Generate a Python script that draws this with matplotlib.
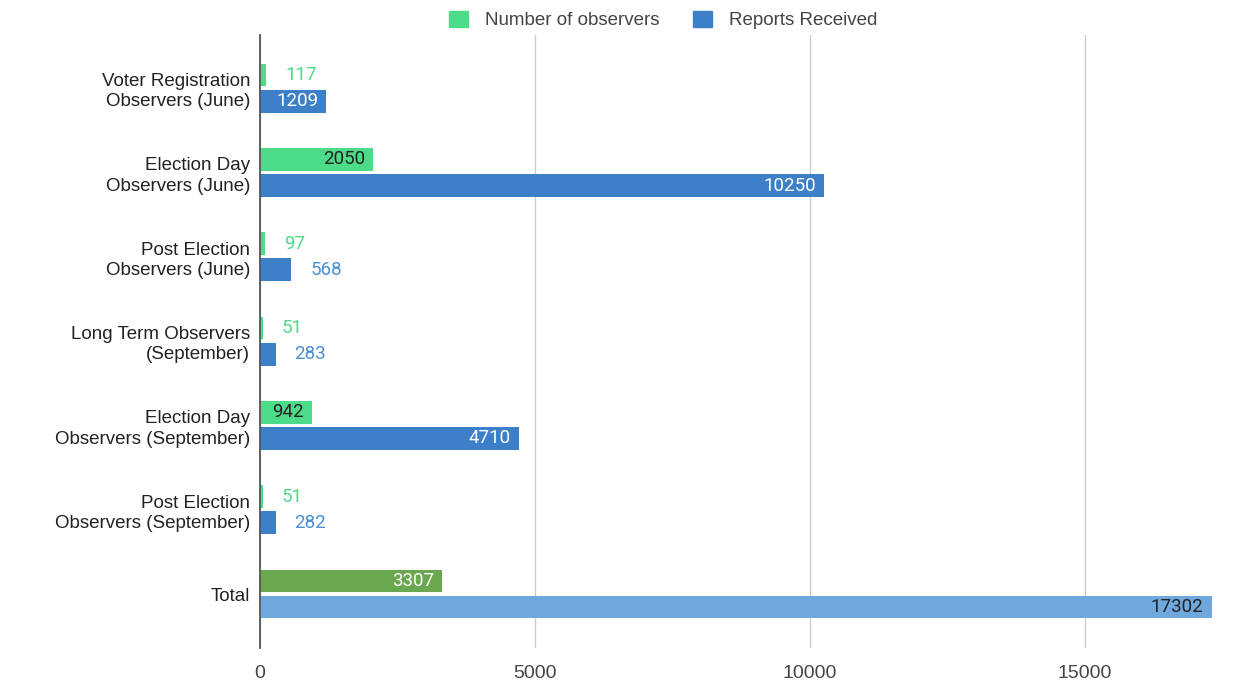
import matplotlib.pyplot as plt
from matplotlib.patches import Patch

categories = ['Voter Registration\nObservers (June)', 'Election Day\nObservers (June)',
              'Post Election\nObservers (June)', 'Long Term Observers\n(September)',
              'Election Day\nObservers (September)', 'Post Election\nObservers (September)',
              'Total']
observers = [117, 2050, 97, 51, 942, 51, 3307]
reports = [1209, 10250, 568, 283, 4710, 282, 17302]

green = '#4cdb88'
blue = '#3d80c8'
green_total = '#6aa84f'
blue_total = '#6fa8dc'

plt.rcParams['font.family'] = ['Liberation Sans', 'DejaVu Sans']

fig = plt.figure(figsize=(12.49, 6.87), dpi=100)
ax = fig.add_axes([260 / 1249, 1 - 648 / 687, 968 / 1249, 613 / 687])

h = 0.27
off = 0.155
y = list(range(len(categories)))
n = len(categories)
g_cols = [green] * (n - 1) + [green_total]
b_cols = [blue] * (n - 1) + [blue_total]

ax.barh([i - off for i in y], observers, height=h, color=g_cols, zorder=3)
ax.barh([i + off for i in y], reports, height=h, color=b_cols, zorder=3)

# value labels: inside the bar when it is wide enough, otherwise after it
px = 17600 / 968.0


def put_label(xv, yv, col_out, dark_inside):
    if xv > 700:
        tc = '#222222' if dark_inside else 'white'
        ax.text(xv - 8 * px, yv, str(xv), ha='right', va='center', color=tc,
                fontsize=13.5, family='Roboto', zorder=4)
    else:
        ax.text(xv + 19 * px, yv, str(xv), ha='left', va='center', color=col_out,
                fontsize=13.5, family='Roboto', zorder=4)


for i in y:
    put_label(observers[i], i - off, '#4cdb88', i != n - 1)
    put_label(reports[i], i + off, '#4a8fd6', i == n - 1)

ax.set_xlim(0, 17600)
ax.set_ylim(6.64, -0.63)
ax.set_xticks([0, 5000, 10000, 15000])
ax.set_yticks(y)
ax.set_yticklabels(categories, fontsize=13.5, color='#222222', linespacing=1.25)
ax.tick_params(axis='x', labelsize=14, colors='#444444', length=0, pad=12)
ax.tick_params(axis='y', length=0, pad=7)
ax.grid(axis='x', color='#cccccc', linewidth=1, zorder=0)
for s in ['top', 'right', 'bottom']:
    ax.spines[s].set_visible(False)
ax.spines['left'].set_color('#555555')
ax.spines['left'].set_linewidth(1.3)
ax.spines['left'].set_zorder(5)

handles = [Patch(color=green, label='Number of observers'),
           Patch(color=blue, label='Reports Received')]
fig.legend(handles=handles, loc='center', bbox_to_anchor=(663 / 1249, 1 - 20 / 687),
           ncol=2, frameon=False, fontsize=13.5, handlelength=1.0, handleheight=1.0,
           columnspacing=1.8, handletextpad=0.9, labelcolor='#444444')

fig.savefig('out.png', dpi=100)
